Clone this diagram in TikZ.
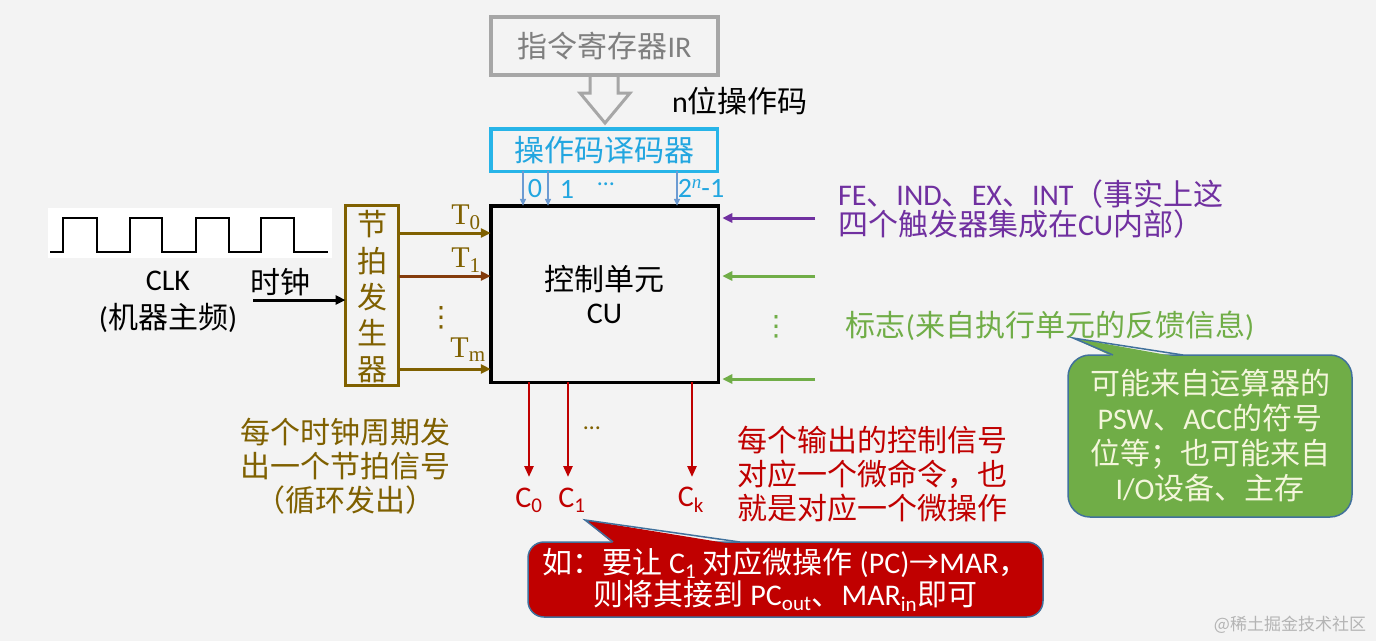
\documentclass[tikz,border=0pt]{standalone}
\usepackage{fontspec}
\setmainfont{Noto Sans CJK SC}
\newfontfamily\latfont{Carlito}
\newfontfamily\serfont{Liberation Serif}
\newfontfamily\symfont{DejaVu Sans}
\usetikzlibrary{arrows.meta}
\newcommand\EN[1]{{\latfont #1}}
\definecolor{bgc}{HTML}{F3F3F3}
\definecolor{irgray}{HTML}{A6A6A6}
\definecolor{irtext}{HTML}{7F7F7F}
\definecolor{cyanb}{HTML}{27B4E8}
\definecolor{cyant}{HTML}{22A6E0}
\definecolor{blarrow}{HTML}{6C9BD2}
\definecolor{olive}{HTML}{7F6000}
\definecolor{brownr}{HTML}{843C0C}
\definecolor{purp}{HTML}{7030A0}
\definecolor{grn}{HTML}{70AD47}
\definecolor{dred}{HTML}{C00000}
\definecolor{cbord}{HTML}{41719C}
\definecolor{cream}{HTML}{F4F6DC}
\definecolor{wmark}{HTML}{B4B4B4}
\begin{document}
\begin{tikzpicture}[x=1pt,y=-1pt,
  every node/.style={inner sep=0pt, outer sep=0pt, font=\fontsize{30}{34}\selectfont},
  boxst/.style={draw, line width=3.5pt},
  tarr/.style={-{Triangle[length=10pt,width=9pt]}, line width=3pt},
  sarr/.style={-{Triangle[length=7pt,width=6pt]}, line width=1.5pt, blarrow},
  rarr/.style={-{Triangle[length=11pt,width=9pt]}, line width=2.5pt, dred},
  calloutg/.style={draw=cbord, fill=grn, line width=1.5pt, rounded corners=22pt, text=cream, align=center},
  calloutr/.style={draw=cbord, fill=dred, line width=1.5pt, rounded corners=16pt, text=white, align=center},
  tlab/.style={text=olive, font=\fontsize{30}{34}\serfont},
  dots/.style={font=\fontsize{28}{28}\symfont},
  declab/.style={text=cyant, font=\fontsize{28}{28}\latfont}
]
\useasboundingbox (0,0) rectangle (1376,641);
\fill[bgc] (0,0) rectangle (1376,641);
\fill[white] (48,208) rectangle (332,258);

% instruction register and decoder
\node[boxst, draw=irgray, minimum width=227pt, minimum height=58pt, text=irtext] (ir) at (604.5,46) {指令寄存器\EN{IR}};
\draw[irgray, line width=3pt, fill=bgc, line join=miter] (590,77) -- (590,93) -- (580,93) -- (605,123) -- (630,93) -- (618,93) -- (618,77);
\node (nbit) at (740,101) {\EN{n}位操作码};
\node[boxst, draw=cyanb, minimum width=226.5pt, minimum height=42.5pt, text=cyant] (dec) at (604,150) {操作码译码器};

% control unit
\node[boxst, draw=black, minimum width=227.5pt, minimum height=176.5pt, align=center, font=\fontsize{30}{33}\selectfont] (cu) at (604.5,294) {控制单元\\\EN{CU}};

% decoder outputs
\draw[sarr] (523,0 |- dec.south) -- (523,0 |- cu.north);
\draw[sarr] (548,0 |- dec.south) -- (548,0 |- cu.north);
\draw[sarr] (677,0 |- dec.south) -- (677,0 |- cu.north);
\node[declab] (d0) at (535,189) {0};
\node[declab] (d1) at (567,189) {1};
\node[declab, font=\fontsize{24}{24}\latfont] (dd) at (606,184) {…};
\node[declab] (dn) at (701,188) {2\raisebox{9pt}{\fontsize{19}{19}\serfont\itshape n}-1};

% clock
\draw[line width=2pt] (50,252) -- (63,252) -- (63,218) -- (97,218) -- (97,252) -- (130,252) -- (130,218) -- (162,218) -- (162,252) -- (196,252) -- (196,218) -- (229,218) -- (229,252) -- (261,252) -- (261,218) -- (294,218) -- (294,252) -- (328,252);
\node (clk) at (168,281) {\EN{CLK}};
\node (clk2) at (168,318) {\EN{(}机器主频\EN{)}};
\node (shz) at (280,282) {时钟};

% timing generator
\node[draw=olive, line width=3pt, minimum width=53pt, minimum height=180pt] (gen) at (372,295.5) {};
\node[text=olive, align=center, font=\fontsize{30}{36.25}\selectfont] (gentxt) at (372,297) {节\\拍\\发\\生\\器};
\coordinate (clkin) at (253,300);
\draw[tarr] (clkin) -- (gen.west |- clkin);

\draw[tarr, olive] (gen.east |- 0,233) -- (cu.west |- 0,233);
\draw[tarr, brownr] (gen.east |- 0,276) -- (cu.west |- 0,276);
\draw[tarr, olive] (gen.east |- 0,369) -- (cu.west |- 0,369);
\node[tlab] (t0) at (466,217) {T\textsubscript{0}};
\node[tlab] (t1) at (466,260) {T\textsubscript{1}};
\node[tlab] (tm) at (468,350) {T\textsubscript{m}};
\node[dots, text=olive] (tdots) at (441,318) {⋮};

% flags on the right
\coordinate (fein) at (815,218);
\coordinate (g1) at (815,276);
\coordinate (g2) at (815,379);
\draw[tarr, purp] (fein) -- ([xshift=4pt]cu.east |- fein);
\draw[tarr, grn] (g1) -- ([xshift=4pt]cu.east |- g1);
\draw[tarr, grn] (g2) -- ([xshift=4pt]cu.east |- g2);
\node[dots, text=grn] (gdots) at (776,327) {⋮};
\node[anchor=west, align=left, text=purp, font=\fontsize{30}{30.5}\selectfont] (fe) at (838,209) {\EN{FE}、\EN{IND}、\EN{EX}、\EN{INT}（事实上这\\四个触发器集成在\EN{CU}内部）};
\node[text=grn] (flag) at (1050,326) {标志\EN{(}来自执行单元的反馈信息\EN{)}};

% green callout
\node[calloutg, minimum width=284pt, minimum height=162pt, font=\fontsize{30}{35}\selectfont] (gbox) at (1210,436) {可能来自运算器的\\\EN{PSW}、\EN{ACC}的符号\\位等；也可能来自\\\EN{I/O}设备、主存};
\fill[grn] (1115,357.5) -- (1073,338) -- (1181,357.5) -- cycle;
\draw[cbord, line width=1.5pt] (1113,355) -- (1073,338) -- (1183,355);

% outputs
\coordinate (c0) at (529,477);
\coordinate (c1) at (568,477);
\coordinate (ck) at (692,477);
\draw[rarr] (cu.south -| c0) -- (c0);
\draw[rarr] (cu.south -| c1) -- (c1);
\draw[rarr] (cu.south -| ck) -- (ck);
\node[text=olive, font=\fontsize{24}{24}\latfont] (cdots) at (592,428) {…};
\node[text=dred] (lc0) at (529,500) {\EN{C\textsubscript{0}}};
\node[text=dred] (lc1) at (572,500) {\EN{C\textsubscript{1}}};
\node[text=dred] (lck) at (691,500) {\EN{C\textsubscript{k}}};

\node[text=olive, align=center] (tnote) at (345,466) {每个时钟周期发\\出一个节拍信号\\（循环发出）};
\node[anchor=west, text=dred, align=left] (cnote) at (737,474) {每个输出的控制信号\\对应一个微命令，也\\就是对应一个微操作};

% red callout
\node[calloutr, minimum width=515pt, minimum height=75pt, font=\fontsize{30}{32}\selectfont] (rbox) at (785.5,579.5) {如：要让 \EN{C\textsubscript{1}} 对应微操作 \EN{(PC)}→\EN{MAR}，\\则将其接到 \EN{PC\textsubscript{out}}、\EN{MAR\textsubscript{in}}即可};
\fill[dred] (615,545) -- (585,520) -- (738,545) -- cycle;
\draw[cbord, line width=1.5pt] (613,542) -- (585,520) -- (740,542);

\node[text=wmark, font=\fontsize{17}{17}\selectfont] (wm) at (1290,625) {@稀土掘金技术社区};
\end{tikzpicture}
\end{document}
